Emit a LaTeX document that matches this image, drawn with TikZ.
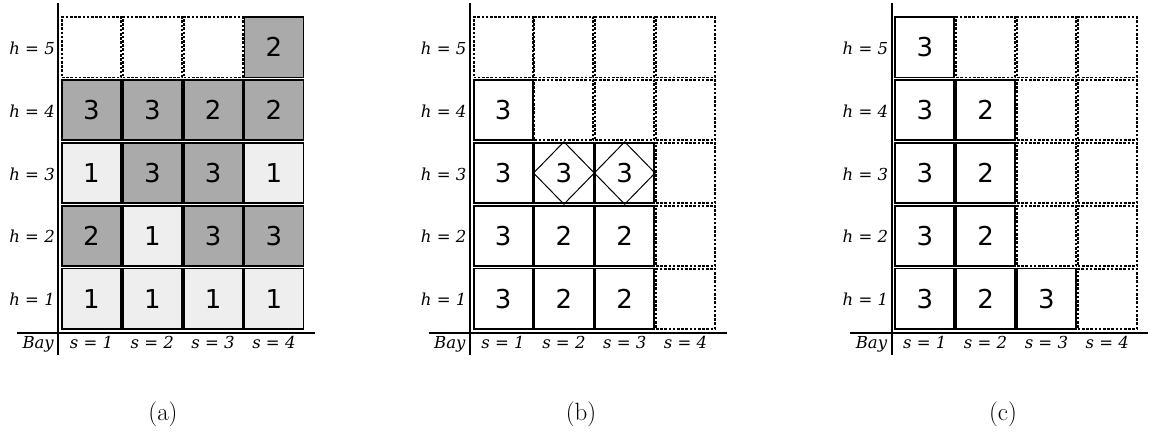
\documentclass[tikz,border=0pt]{standalone}
\usepackage{fontspec}
\newfontfamily\cellfont{DejaVu Sans}
\newfontfamily\axisfont{DejaVu Serif}
\usetikzlibrary{positioning}
\definecolor{boxDark}{HTML}{AAAAAA}
\definecolor{boxLight}{HTML}{EEEEEE}
\tikzset{
  cell/.style={minimum width=59pt, minimum height=60.5pt, inner sep=0pt,
               line width=1.8pt},
  slot/.style={cell, draw=black, line width=1.9pt, dash pattern=on 2.6pt off 1.6pt},
  container/.style={cell, draw=black, fill=white,
                    font=\fontsize{26}{28}\cellfont},
  axis/.style={draw=black, line width=1.8pt},
  axisLabel/.style={font=\fontsize{16.5}{18}\axisfont\itshape, inner sep=0pt},
  caption/.style={font=\fontsize{25}{28}\selectfont, inner sep=0pt},
  tierMark/.style={draw=black, line width=1pt}
}

\begin{document}
\begin{tikzpicture}[x=1pt, y=-1pt]
\useasboundingbox (0,0) rectangle (1155,434);

% ------------------------------------------------------------
% AXES + LABELS (same for all three bays)
% ------------------------------------------------------------
\foreach \p/\dx in {a/0, b/411.6, c/833.3} {
  \begin{scope}[xshift=\dx pt]
    \coordinate (\p top)   at (58.3,3);
    \coordinate (\p foot)  at (58.3,355);
    \coordinate (\p left)  at (17,333.3);
    \coordinate (\p right) at (315,333.3);
    \draw[axis] (\p top) -- (\p foot);
    \draw[axis] (\p left) -- (\p right);
    \node[axisLabel, anchor=base east] (\p bay) at (54,348.5) {Bay};
    \foreach \h in {1,...,5}
      \node[axisLabel, anchor=base east] (\p h\h) at (55,{54.2+(5-\h)*62.9}) {h = \h};
    \foreach \s in {1,...,4}
      \node[axisLabel, anchor=base] (\p s\s) at ({91.5+(\s-1)*60.8},348.5) {s = \s};
  \end{scope}
}

% ------------------------------------------------------------
% (a) initial bay
% ------------------------------------------------------------
\foreach \s/\h in {1/5, 2/5, 3/5}
  \node[slot] (a\s\h) at ({91.5+(\s-1)*60.8},{47.2+(5-\h)*62.9}) {};
\foreach \s/\h/\v/\k in {1/1/1/boxLight, 2/1/1/boxLight, 3/1/1/boxLight, 4/1/1/boxLight,
                         1/2/2/boxDark, 2/2/1/boxLight, 3/2/3/boxDark, 4/2/3/boxDark,
                         1/3/1/boxLight, 2/3/3/boxDark, 3/3/3/boxDark, 4/3/1/boxLight,
                         1/4/3/boxDark, 2/4/3/boxDark, 3/4/2/boxDark, 4/4/2/boxDark,
                         4/5/2/boxDark}
  \node[container, fill=\k] (a\s\h) at ({91.5+(\s-1)*60.8},{47.2+(5-\h)*62.9}) {\v};

\node[caption] (capA) at (163,414) {(a)};

% ------------------------------------------------------------
% (b) partial stacking, two marked tiers
% ------------------------------------------------------------
\begin{scope}[xshift=411.6pt]
\foreach \s/\h in {1/5, 2/4, 2/5, 3/4, 3/5, 4/1, 4/2, 4/3, 4/4, 4/5}
  \node[slot] (b\s\h) at ({91.5+(\s-1)*60.8},{47.2+(5-\h)*62.9}) {};
\foreach \s/\h/\v in {1/1/3, 1/2/3, 1/3/3, 1/4/3,
                      2/1/2, 2/2/2, 2/3/3,
                      3/1/2, 3/2/2, 3/3/3}
  \node[container] (b\s\h) at ({91.5+(\s-1)*60.8},{47.2+(5-\h)*62.9}) {\v};

% diamonds on the marked containers
\foreach \c in {b23, b33}
  \draw[tierMark] (\c.north) -- (\c.east) -- (\c.south) -- (\c.west) -- cycle;
\end{scope}

\node[caption] (capB) at (581,414) {(b)};

% ------------------------------------------------------------
% (c) final bay
% ------------------------------------------------------------
\begin{scope}[xshift=833.3pt]
\foreach \s/\h in {2/5, 3/2, 3/3, 3/4, 3/5, 4/1, 4/2, 4/3, 4/4, 4/5}
  \node[slot] (c\s\h) at ({91.5+(\s-1)*60.8},{47.2+(5-\h)*62.9}) {};
\foreach \s/\h/\v in {1/1/3, 1/2/3, 1/3/3, 1/4/3, 1/5/3,
                      2/1/2, 2/2/2, 2/3/2, 2/4/2,
                      3/1/3}
  \node[container] (c\s\h) at ({91.5+(\s-1)*60.8},{47.2+(5-\h)*62.9}) {\v};
\end{scope}

\node[caption] (capC) at (1003,414) {(c)};

\end{tikzpicture}
\end{document}
